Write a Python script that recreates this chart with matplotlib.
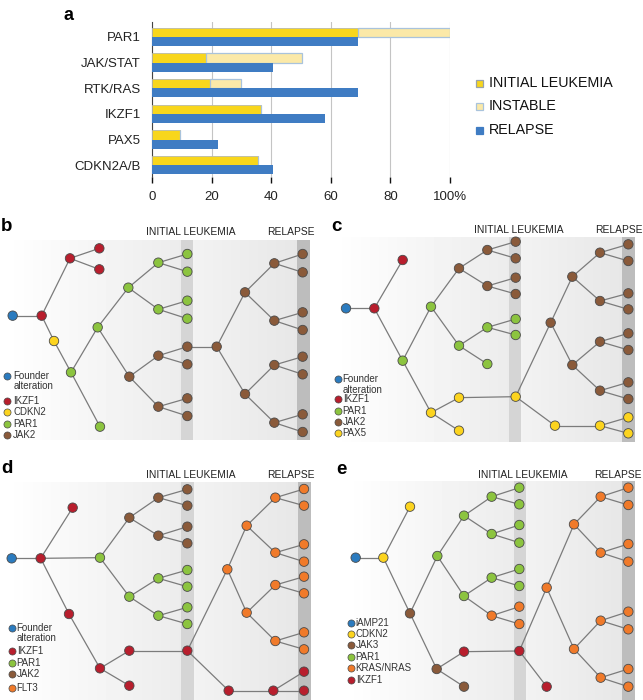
import numpy as np
import matplotlib
matplotlib.use('Agg')
import matplotlib.pyplot as plt
from matplotlib.patches import Rectangle

plt.rcParams['font.family'] = ['Liberation Sans', 'DejaVu Sans']

# ---- panel a data ----
cats = ['PAR1', 'JAK/STAT', 'RTK/RAS', 'IKZF1', 'PAX5', 'CDKN2A/B']
initial = [69, 18, 19.5, 36.5, 9.5, 35.5]
instable = [31, 32.5, 10.5, 0, 0, 0]      # extra part stacked on initial
relapse = [69, 40.5, 69, 58, 22, 40.5]
ticks = [0, 20, 40, 60, 80, 100]
tick_labels = ['0', '20', '40', '60', '80', '100%']

# ---- tree panels (coords in panel units, 3 units = 1 px) ----
# colour codes: F founder/iAMP21, R IKZF1, Y CDKN2/PAX5, G PAR1, N JAK2/JAK3, O FLT3/KRAS
b_x = [38, 125, 210, 298, 298, 162, 213, 293, 300, 385, 475, 475, 562, 562, 562, 562,
       388, 475, 475, 562, 562, 562, 562, 650, 735, 735, 823, 823, 823, 823,
       908, 908, 908, 908, 908, 908, 908, 908]
b_y = [287, 287, 115, 85, 148, 363, 457, 322, 620, 203, 128, 268, 102, 155, 242, 296,
       470, 407, 560, 380, 433, 535, 588, 380, 217, 522, 130, 302, 435, 608,
       102, 157, 277, 330, 410, 463, 583, 636]
b_col = 'FRRRRYGGGGGGGGGGNNNNNNNNNNNNNNNNNNNNNN'
b_par = [-1, 0, 1, 2, 2, 1, 5, 6, 6, 7, 9, 9, 10, 10, 11, 11,
         7, 16, 16, 17, 17, 18, 18, 19, 23, 23, 24, 24, 25, 25,
         26, 26, 27, 27, 28, 28, 29, 29]
b_leg = [('Founder\nalteration', 'F'), ('IKZF1', 'R'), ('CDKN2', 'Y'), ('PAR1', 'G'), ('JAK2', 'N')]

c_x = [78, 163, 248, 248, 333, 417, 502, 502, 587, 587, 587, 587, 417, 502, 502, 587, 587,
       333, 417, 417, 587, 692, 757, 757, 840, 840, 840, 840,
       925, 925, 925, 925, 925, 925, 925, 925, 705, 840, 925, 925]
c_y = [265, 265, 120, 422, 260, 145, 90, 198, 65, 115, 173, 222, 377, 322, 432, 297, 345,
       578, 533, 632, 530, 308, 170, 435, 98, 243, 365, 512,
       73, 123, 220, 268, 340, 390, 487, 537, 617, 617, 592, 640]
c_col = 'FRRGGNNNNNNNGGGGGYYYYNNNNNNNNNNNNNNNYYYY'
c_par = [-1, 0, 1, 1, 3, 4, 5, 5, 6, 6, 7, 7, 4, 12, 12, 13, 13,
         3, 17, 17, 18, 20, 21, 21, 22, 22, 23, 23,
         24, 24, 25, 25, 26, 26, 27, 27, 20, 36, 37, 37]
c_leg = [('Founder\nalteration', 'F'), ('IKZF1', 'R'), ('PAR1', 'G'), ('JAK2', 'N'), ('PAX5', 'Y')]

d_x = [35, 122, 218, 300, 388, 475, 475, 562, 562, 562, 562, 388, 475, 475, 562, 562, 562, 562,
       207, 300, 388, 388, 562, 682, 740, 740, 826, 826, 826, 826,
       912, 912, 912, 912, 912, 912, 912, 912, 686, 820, 912, 912]
d_y = [295, 295, 143, 293, 173, 113, 227, 88, 137, 200, 250, 410, 355, 467, 330, 380, 442, 492,
       462, 625, 572, 677, 572, 328, 197, 458, 113, 278, 375, 543,
       87, 137, 253, 305, 350, 400, 517, 568, 692, 692, 635, 692]
d_col = 'FRRGNNNNNNNGGGGGGGRRRRROOOOOOOOOOOOOOORRRR'
d_par = [-1, 0, 1, 1, 3, 4, 4, 5, 5, 6, 6, 3, 11, 11, 12, 12, 13, 13,
         1, 18, 19, 19, 20, 22, 23, 23, 24, 24, 25, 25,
         26, 26, 27, 27, 28, 28, 29, 29, 22, 38, 39, 39]
d_leg = [('Founder\nalteration', 'F'), ('IKZF1', 'R'), ('PAR1', 'G'), ('JAK2', 'N'), ('FLT3', 'O')]

e_x = [107, 190, 270, 270, 352, 432, 515, 515, 598, 598, 598, 598, 432, 515, 515, 598, 598, 598, 598,
       350, 432, 432, 598, 680, 680, 762, 762, 842, 842, 842, 842,
       925, 925, 925, 925, 925, 925, 925, 925]
e_y = [293, 293, 140, 460, 288, 167, 110, 222, 83, 133, 195, 248, 408, 353, 467, 327, 378, 440, 492,
       627, 575, 680, 573, 383, 680, 193, 567, 110, 278, 482, 653,
       83, 135, 252, 305, 455, 508, 627, 680]
e_col = 'FYYNGGGGGGGGGGOGGOONRNROROOOOOOOOOOOOOO'
e_par = [-1, 0, 1, 1, 3, 4, 5, 5, 6, 6, 7, 7, 4, 12, 12, 13, 13, 14, 14,
         3, 19, 19, 20, 22, 22, 23, 23, 25, 25, 26, 26,
         27, 27, 28, 28, 29, 29, 30, 30]
e_leg = [('iAMP21', 'F'), ('CDKN2', 'Y'), ('JAK3', 'N'), ('PAR1', 'G'), ('KRAS/NRAS', 'O'), ('IKZF1', 'R')]

PAL = {'F': '#2b7bbf', 'R': '#b81e2d', 'Y': '#fcd41f', 'G': '#8cc43f',
       'N': '#8a5a3a', 'O': '#f07a2a'}

W, H = 643, 700
fig = plt.figure(figsize=(W / 100, H / 100), dpi=100)


def px_axes(x, y, w, h):
    return fig.add_axes([x / W, 1 - (y + h) / H, w / W, h / H])


# ================= panel a =================
ax = px_axes(152, 22, 298, 155)
pos = np.arange(len(cats))
bh = 0.36
ax.barh(pos - bh / 2, initial, height=bh, color='#f8d61c', edgecolor='#b9b9a6', lw=0.6, zorder=3)
ax.barh(pos - bh / 2, instable, left=initial, height=bh, color='#fbe9a8', edgecolor='#a9c3dc', lw=0.9, zorder=3)
ax.barh(pos + bh / 2, relapse, height=bh, color='#3f7cc3', edgecolor='none', zorder=3)
ax.set_xlim(0, 100)
ax.set_ylim(5.46, -0.58)
ax.set_xticks(ticks)
ax.set_xticklabels(tick_labels, fontsize=9.5, color='#222222')
ax.set_yticks(pos)
ax.set_yticklabels(cats, fontsize=9.5, color='#222222')
ax.tick_params(axis='y', length=0, pad=8)
ax.tick_params(axis='x', length=4, width=1, direction='out', pad=6, color='#111111')
for s in ['top', 'right', 'bottom']:
    ax.spines[s].set_visible(False)
ax.spines['left'].set_color('#444444')
ax.grid(axis='x', color='#c4c4c4', lw=0.8)
ax.set_axisbelow(True)

fig.text(68 / W, 1 - 15 / H, 'a', fontsize=13, fontweight='bold', ha='center', va='center')

leg_a = [('INITIAL LEUKEMIA', '#f8d61c', '#9aa3a8'),
         ('INSTABLE', '#fbe9a8', '#a9c3dc'),
         ('RELAPSE', '#3f7cc3', '#3f7cc3')]
for k, (lab, fc, ec) in enumerate(leg_a):
    yy = 83 + k * 23.5
    fig.add_artist(Rectangle((476 / W, 1 - (yy + 3.5) / H), 7 / W, 7 / H,
                             transform=fig.transFigure, facecolor=fc, edgecolor=ec, lw=0.9))
    fig.text(489 / W, 1 - yy / H, lab, fontsize=10.3, ha='left', va='center', color='#111111')


# ================= trees =================
def background(ax, x0, x1, y0, y1, init, rel):
    xx = np.linspace(x0, x1, 1500)
    v = np.ones_like(xx)
    m = xx < init[0]
    v[m] = 1.0 - 0.075 * (xx[m] - x0) / (init[0] - x0)
    m = (xx >= init[0]) & (xx < init[1])
    v[m] = 0.835
    m = (xx >= init[1]) & (xx < rel[0])
    v[m] = 0.95 - 0.045 * (xx[m] - init[1]) / (rel[0] - init[1])
    m = xx >= rel[0]
    v[m] = 0.74
    ax.imshow(v[None, :], extent=(x0, x1, y1, y0), cmap='gray', vmin=0, vmax=1,
              aspect='auto', interpolation='nearest', zorder=0)


def tree(ax, xs, ys, cols, parents):
    for i, p in enumerate(parents):
        if p >= 0:
            ax.plot([xs[p], xs[i]], [ys[p], ys[i]], color='#7b7b7b', lw=0.9, zorder=2)
    ax.scatter(xs, ys, s=46, c=[PAL[c] for c in cols], edgecolors='#4a4a4a',
               linewidths=0.6, zorder=3)


def legend(ax, items, cx, tx, ys):
    for (lab, c), yy in zip(items, ys):
        ax.scatter([cx], [yy], s=26, c=PAL[c], edgecolors='#4a4a4a', linewidths=0.5, zorder=3)
        for j, line in enumerate(lab.split('\n')):
            ax.text(tx, yy + j * 31, line, fontsize=7, ha='left', va='center',
                    color='#333333', zorder=4)


panels = [
    # letter, fig box, bg box, init band, relapse band, relapse label right, letter pos, tree, legend
    dict(letter='b', box=(0, 220, 320, 240), bg=(15, 930, 60, 660), init=(543, 580), rel=(890, 930),
         rel_r=945, lpos=(20, 20), ty=35, tree=(b_x, b_y, b_col, b_par), leg=b_leg,
         lx=(22, 40), ly=[468, 542, 576, 611, 645]),
    dict(letter='c', box=(320, 220, 323, 240), bg=(40, 945, 50, 665), init=(567, 605), rel=(905, 945),
         rel_r=968, lpos=(48, 20), ty=30, tree=(c_x, c_y, c_col, c_par), leg=c_leg,
         lx=(55, 68), ly=[478, 538, 572, 605, 638]),
    dict(letter='d', box=(0, 460, 320, 240), bg=(15, 933, 68, 720), init=(543, 582), rel=(893, 933),
         rel_r=945, lpos=(22, 25), ty=45, tree=(d_x, d_y, d_col, d_par), leg=d_leg,
         lx=(35, 50), ly=[503, 573, 608, 643, 685]),
    dict(letter='e', box=(320, 460, 323, 240), bg=(75, 943, 65, 720), init=(580, 617), rel=(905, 943),
         rel_r=965, lpos=(63, 30), ty=45, tree=(e_x, e_y, e_col, e_par), leg=e_leg,
         lx=(93, 107), ly=[490, 522, 555, 590, 625, 660]),
]

for p in panels:
    bx, by, bw, bhh = p['box']
    ax = px_axes(bx, by, bw, bhh)
    ax.axis('off')
    x0, x1, y0, y1 = p['bg']
    background(ax, x0, x1, y0, y1, p['init'], p['rel'])
    tree(ax, *p['tree'])
    legend(ax, p['leg'], p['lx'][0], p['lx'][1], p['ly'])
    ax.text(sum(p['init']) / 2 + 10, p['ty'], 'INITIAL LEUKEMIA', fontsize=7.4,
            ha='center', va='center', color='#222222')
    ax.text(p['rel_r'], p['ty'], 'RELAPSE', fontsize=7.4, ha='right', va='center', color='#222222')
    ax.text(p['lpos'][0], p['lpos'][1], p['letter'], fontsize=13.5, fontweight='bold',
            ha='center', va='center')
    ax.set_xlim(0, bw * 3)
    ax.set_ylim(bhh * 3, 0)

fig.savefig('out.png', dpi=100)
